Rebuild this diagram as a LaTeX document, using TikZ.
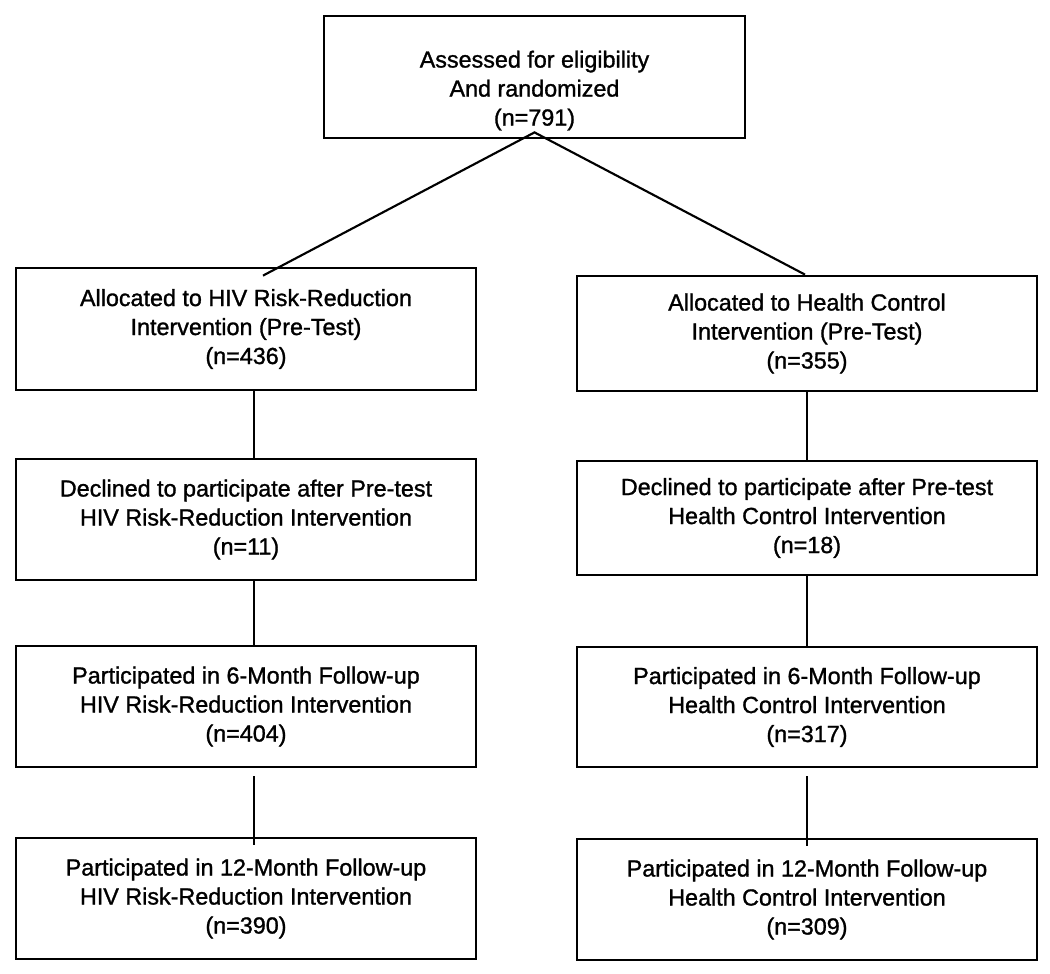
\documentclass[tikz,border=0pt]{standalone}
\usepackage{fontspec}
\setmainfont{Liberation Sans}
\newfontfamily\scanfont{Liberation Sans}[FakeBold=1.2]
\usepackage{tikz}

\begin{document}
\begin{tikzpicture}[x=0.75pt,y=0.75pt,yscale=-1,xscale=1,
  box/.style={draw, line width=2.1pt, inner sep=0pt, align=center,
    font=\scanfont\fontsize{17.5}{21.75}\selectfont},
  colbox/.style={box, minimum width=345pt},
  link/.style={line width=1.6pt}]
\useasboundingbox (0,0) rectangle (1050,974);
%Shape: Top box
\node[box, minimum width=315.75pt, minimum height=91.5pt] (assessed) at (534.5,77)
  {\rule{0pt}{33pt}Assessed for eligibility\\And randomized\\(n=791)};
%Shape: Left column
\node[colbox, minimum height=91.5pt] (hivpre) at (246,329)
  {Allocated to HIV Risk-Reduction\\Intervention (Pre-Test)\\(n=436)};
\node[colbox, minimum height=90.75pt] (hivdecl) at (246,519.5)
  {Declined to participate after Pre-test\\HIV Risk-Reduction Intervention\\(n=11)};
\node[colbox, minimum height=90.75pt] (hivsix) at (246,706.5)
  {Participated in 6-Month Follow-up\\HIV Risk-Reduction Intervention\\(n=404)};
\node[colbox, minimum height=90.75pt] (hivtwelve) at (246,898.5)
  {Participated in 12-Month Follow-up\\HIV Risk-Reduction Intervention\\(n=390)};
%Shape: Right column
\node[colbox, minimum height=86.25pt] (hcpre) at (807,333.5)
  {Allocated to Health Control\\Intervention (Pre-Test)\\(n=355)};
\node[colbox, minimum height=85.5pt] (hcdecl) at (807,518)
  {Declined to participate after Pre-test\\Health Control Intervention\\(n=18)};
\node[colbox, minimum height=90pt] (hcsix) at (807,707)
  {Participated in 6-Month Follow-up\\Health Control Intervention\\(n=317)};
\node[colbox, minimum height=90.75pt] (hctwelve) at (807,899.5)
  {Participated in 12-Month Follow-up\\Health Control Intervention\\(n=309)};
%Straight Lines: split
\draw[link] ([xshift=12.75pt,yshift=6.75pt]hivpre.north) -- ([yshift=-5.25pt]assessed.south) -- ([xshift=-1.5pt]hcpre.north);
%Straight Lines: left column
\draw[link] ([xshift=6pt]hivpre.south) -- ([xshift=6pt]hivdecl.north);
\draw[link] ([xshift=6pt]hivdecl.south) -- ([xshift=6pt]hivsix.north);
\draw[link, shorten <=6pt, shorten >=-6pt] ([xshift=6pt]hivsix.south) -- ([xshift=6pt]hivtwelve.north);
%Straight Lines: right column
\draw[link] (hcpre) -- (hcdecl);
\draw[link] (hcdecl) -- (hcsix);
\draw[link, shorten <=6pt, shorten >=-6pt] (hcsix.south) -- (hctwelve.north);
\end{tikzpicture}
\end{document}
